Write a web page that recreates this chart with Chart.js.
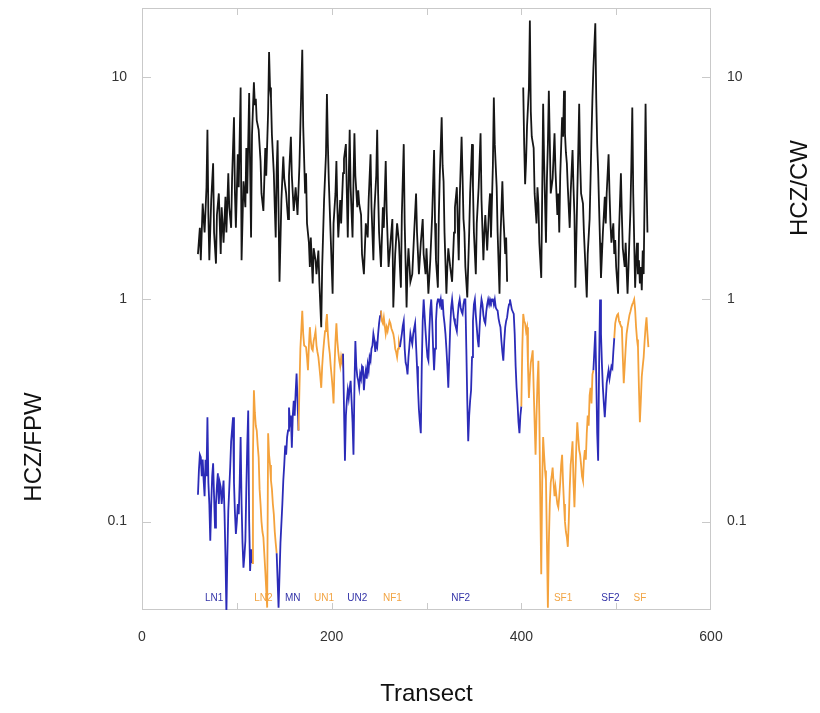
<!DOCTYPE html>
<html><head><meta charset="utf-8">
<script src="https://cdn.jsdelivr.net/npm/chart.js@4/dist/chart.umd.min.js"></script>
<style>html,body{margin:0;padding:0;background:#fff;}#wrap{width:820px;height:713px;position:relative;}</style>
</head><body><div id="wrap"><canvas id="c" width="820" height="713"></canvas></div>
<script>
// HCZ/CW (black, right axis): [transect, ratio]; null = gap
const cwPoints = [[59,1.6],[61,2.1],[62,1.5],[64,2.7],[66,2.0],[68,3.2],[69,5.8],[70,2.4],[71,1.5],[73,2.8],[75,4.1],[76,2.0],[78,1.45],[79,2.4],[81,3.0],[83,1.6],[84,2.6],[86,1.8],[88,2.9],[89,2.0],[91,3.7],[92,2.6],[94,2.1],[95,3.5],[97,6.6],[98,3.0],[99,2.1],[101,4.5],[102,3.2],[104,9.0],[105,1.5],[107,3.4],[109,2.6],[110,4.8],[111,3.0],[113,8.5],[114,4.0],[115,1.9],[116,5.5],[118,9.5],[119,7.5],[120,8.0],[121,6.4],[123,5.8],[125,4.2],[126,3.0],[128,2.5],[130,4.8],[131,3.6],[133,7.0],[134,13],[135,9.0],[136,8.1],[137,5.5],[139,3.7],[140,2.6],[141,1.9],[142,3.8],[143,5.2],[145,1.2],[147,2.8],[149,4.4],[150,3.5],[152,3.0],[154,2.3],[155,3.6],[157,5.4],[158,3.6],[160,2.5],[162,3.2],[164,2.4],[166,4.0],[167,6.0],[169,13.3],[170,6.0],[172,3.0],[173,3.7],[174,2.2],[176,1.8],[177,1.4],[178,1.9],[180,1.18],[181,1.7],[183,1.5],[184,1.3],[186,1.66],[187,1.2],[189,0.75],[190,1.4],[192,2.8],[194,4.5],[195,8.4],[196,5.0],[197,3.4],[199,1.9],[201,1.06],[202,2.2],[204,3.0],[205,4.2],[206,2.6],[207,1.9],[209,2.8],[210,2.2],[212,3.7],[213,4.3],[215,5.0],[216,3.0],[217,1.9],[218,3.5],[219,5.8],[220,3.2],[222,1.9],[223,3.4],[224,5.6],[225,3.6],[227,2.6],[228,3.1],[229,2.7],[231,2.4],[232,1.6],[234,1.3],[236,2.2],[238,1.9],[239,2.8],[241,4.5],[242,2.6],[244,1.5],[245,2.5],[247,3.6],[248,5.8],[249,3.0],[250,2.0],[252,1.4],[254,2.6],[255,2.1],[257,4.2],[258,2.5],[260,1.4],[262,1.8],[264,2.3],[265,0.92],[267,1.6],[269,2.2],[271,1.8],[272,1.4],[273,1.13],[274,2.4],[276,5.0],[277,2.2],[279,0.92],[280,1.4],[281,1.7],[283,1.2],[285,1.3],[287,2.0],[289,3.0],[290,2.0],[292,1.3],[294,1.8],[296,2.3],[297,1.6],[299,1.3],[300,1.7],[302,1.06],[304,1.5],[306,2.4],[308,4.7],[309,2.2],[310,1.5],[312,1.13],[313,2.4],[314,3.6],[316,6.6],[317,4.0],[318,3.4],[319,2.0],[321,1.06],[322,1.4],[323,1.7],[325,1.4],[327,1.2],[329,2.0],[330,2.6],[332,3.2],[333,2.1],[334,1.5],[335,2.8],[337,5.4],[338,3.6],[339,2.3],[340,2.0],[341,1.4],[343,1.02],[345,2.0],[346,3.0],[348,5.0],[349,3.2],[350,2.0],[352,1.3],[353,2.2],[355,3.2],[357,5.6],[358,2.8],[360,1.5],[361,2.0],[362,2.4],[364,1.66],[366,2.6],[367,3.0],[368,1.9],[370,4.0],[371,8.1],[372,5.0],[374,3.2],[375,2.0],[377,1.06],[378,1.9],[380,3.4],[381,2.4],[383,1.6],[384,1.9],[385,1.2],[393,null],[402,9.0],[403,5.0],[404,3.3],[405,4.2],[406,6.0],[408,9.0],[409,18],[410,7.0],[411,5.4],[413,4.8],[414,3.0],[416,2.2],[417,3.2],[418,2.7],[419,1.8],[421,1.25],[422,3.0],[423,7.6],[424,4.2],[426,1.8],[427,3.5],[428,5.0],[429,8.7],[430,5.2],[431,3.0],[433,3.5],[434,4.4],[435,5.6],[436,3.8],[438,2.4],[439,3.0],[440,2.0],[441,3.6],[443,6.6],[444,5.4],[445,8.7],[446,5.6],[447,4.6],[448,4.1],[449,3.2],[451,2.1],[452,3.0],[454,4.7],[455,3.2],[456,2.4],[457,1.13],[459,3.0],[460,4.6],[461,7.6],[462,4.2],[463,3.0],[465,2.7],[466,2.0],[467,1.6],[469,1.02],[470,1.6],[472,2.3],[473,3.5],[474,5.5],[475,8.1],[476,11],[478,17.5],[479,8.0],[480,5.0],[481,3.8],[482,2.6],[483,1.8],[484,1.25],[486,2.0],[487,2.4],[488,2.9],[489,2.2],[490,3.0],[492,4.5],[493,3.0],[494,2.2],[495,1.8],[497,2.2],[498,1.6],[499,1.85],[500,1.4],[502,1.06],[503,2.0],[505,3.7],[506,2.4],[507,1.7],[509,1.4],[510,1.8],[512,1.06],[513,1.4],[514,1.9],[515,2.5],[516,4.0],[517,7.3],[518,3.0],[520,1.13],[521,1.5],[522,1.8],[523,1.3],[524,1.5],[525,1.18],[526,1.4],[527,1.1],[528,1.66],[529,1.3],[530,3.0],[531,7.6],[532,3.5],[533,2.0]];

// HCZ/FPW (left axis, coloured by reach): [transect, ratio]
const fpwPoints = [[59,0.132],[60,0.17],[61,0.2],[62,0.195],[63,0.16],[64,0.19],[65,0.153],[66,0.13],[67,0.19],[68,0.16],[69,0.295],[70,0.15],[71,0.12],[72,0.082],[73,0.12],[74,0.16],[75,0.183],[76,0.13],[77,0.094],[78,0.12],[79,0.145],[80,0.165],[81,0.12],[82,0.15],[83,0.143],[84,0.12],[85,0.135],[86,0.153],[87,0.11],[88,0.07],[89,0.039],[90,0.07],[91,0.112],[92,0.14],[93,0.175],[94,0.23],[95,0.26],[96,0.295],[97,0.15],[98,0.11],[99,0.088],[100,0.1],[101,0.12],[102,0.108],[103,0.15],[104,0.24],[105,0.12],[106,0.08],[107,0.062],[108,0.07],[109,0.082],[110,0.14],[111,0.22],[112,0.316],[113,0.1],[114,0.06],[115,0.075],[116,0.065],
[117,0.2],[118,0.39],[119,0.31],[120,0.27],[121,0.257],[122,0.22],[123,0.195],[124,0.14],[125,0.12],[126,0.1],[127,0.09],[128,0.085],[130,0.06],[132,0.041],[133,0.25],[134,0.2],[135,0.18],[136,0.153],[137,0.14],[138,0.12],[139,0.108],[140,0.09],[141,0.08],[142,0.072],
[144,0.041],[146,0.08],[148,0.12],[149,0.153],[150,0.18],[151,0.22],[152,0.2],[153,0.24],[154,0.257],[155,0.326],[156,0.28],[157,0.3],[158,0.215],[159,0.3],[160,0.35],[161,0.3],[162,0.38],[163,0.464],[164,0.35],[165,0.257],
[167,0.6],[169,0.89],[170,0.7],[171,0.62],[173,0.61],[174,0.55],[175,0.48],[176,0.62],[177,0.75],[178,0.65],[179,0.6],[180,0.59],[181,0.65],[182,0.68],[183,0.72],[184,0.62],[185,0.58],[186,0.55],[187,0.5],[188,0.45],[189,0.40],[190,0.5],[191,0.58],[192,0.65],[193,0.72],[194,0.78],[195,0.86],[196,0.7],[197,0.62],[198,0.57],[199,0.5],[200,0.45],[201,0.4],[202,0.34],[203,0.5],[204,0.65],[205,0.78],[206,0.65],[207,0.58],[208,0.53],[209,0.5],[210,0.55],[211,0.52],[212,0.57],
[214,0.188],[215,0.3],[216,0.35],[217,0.39],[218,0.36],[219,0.4],[220,0.43],[221,0.35],[222,0.28],[223,0.2],[224,0.4],[225,0.65],[226,0.5],[227,0.45],[228,0.43],[229,0.4],[230,0.46],[231,0.44],[232,0.5],[233,0.49],[234,0.39],[235,0.45],[236,0.48],[237,0.44],[238,0.51],[239,0.48],[240,0.55],[241,0.53],[242,0.6],[243,0.62],[244,0.70],[245,0.66],[246,0.58],[247,0.63],[248,0.61],[249,0.7],[250,0.78],[251,0.84],[252,0.89],
[253,0.8],[254,0.78],[255,0.83],[256,0.76],[257,0.7],[258,0.75],[259,0.72],[260,0.76],[261,0.8],[262,0.78],[263,0.74],[264,0.72],[265,0.70],[266,0.66],[267,0.6],[268,0.58],[269,0.55],[270,0.6],[271,0.64],[272,0.61],
[274,0.7],[275,0.76],[276,0.80],[277,0.6],[278,0.52],[279,0.5],[280,0.46],[281,0.55],[282,0.62],[283,0.70],[284,0.66],[285,0.63],[286,0.7],[287,0.74],[288,0.78],[289,0.62],[290,0.5],[291,0.4],[292,0.32],[293,0.28],[294,0.25],[295,0.5],[296,0.8],[297,1.0],[298,0.85],[299,0.72],[300,0.62],[301,0.55],[302,0.53],[303,0.72],[304,0.9],[305,1.0],[306,0.8],[307,0.6],[308,0.48],[309,0.6],[310,0.8],[311,0.95],[312,1.0],[313,1.0],[314,0.95],[315,1.0],[316,0.9],[317,1.0],[318,0.85],[319,0.78],[320,0.70],[321,0.6],[322,0.5],[323,0.40],[324,0.55],[325,0.75],[326,0.92],[327,1.0],[328,0.9],[329,0.82],[330,0.78],[331,0.75],[332,0.72],[333,0.85],[334,0.95],[335,1.0],[336,0.92],[337,0.88],[338,0.86],[339,0.95],[340,1.0],[341,1.0],[342,0.6],[343,0.35],[344,0.23],[345,0.3],[346,0.35],[347,0.39],[348,0.55],[349,0.8],[350,0.95],[351,1.0],[352,0.85],[353,0.75],[354,0.66],[355,0.61],[356,0.75],[357,0.9],[358,1.0],[359,0.95],[360,0.85],[361,0.8],[362,0.78],[363,0.88],[364,0.95],[365,1.0],[366,0.95],[367,1.0],[368,0.97],[369,1.0],[370,1.0],[371,0.95],[372,1.0],[373,0.92],[374,0.9],[375,0.89],[376,0.82],[377,0.78],[378,0.75],[379,0.65],[380,0.58],[381,0.53],[382,0.65],[383,0.75],[384,0.8],[385,0.83],[386,0.9],[387,0.95],[388,1.0],[389,0.95],[390,0.9],[391,0.88],[392,0.86],[393,0.7],[394,0.5],[395,0.4],[396,0.34],[397,0.28],[398,0.25],[399,0.3],[400,0.33],
[401,0.6],[402,0.86],[403,0.8],[404,0.78],[405,0.72],[406,0.75],[407,0.5],[408,0.36],[409,0.45],[410,0.52],[411,0.55],[412,0.59],[413,0.4],[414,0.28],[415,0.2],[416,0.3],[417,0.42],[418,0.53],[419,0.3],[420,0.12],[421,0.058],[422,0.15],[423,0.24],[424,0.2],[425,0.17],[426,0.153],[427,0.08],[428,0.041],[429,0.08],[430,0.12],[431,0.15],[432,0.16],[433,0.175],[434,0.15],[435,0.13],[436,0.143],[437,0.13],[438,0.12],[439,0.116],[440,0.13],[441,0.15],[442,0.18],[443,0.2],[444,0.15],[445,0.12],[446,0.1],[447,0.09],[448,0.085],[449,0.077],[450,0.1],[451,0.14],[452,0.18],[453,0.2],[454,0.23],[455,0.15],[456,0.116],[457,0.16],[458,0.22],[459,0.28],[460,0.24],[461,0.21],[462,0.2],[463,0.18],[464,0.16],[465,0.153],[466,0.19],[467,0.21],[468,0.19],[469,0.25],[470,0.3],[471,0.27],[472,0.37],[473,0.40],[474,0.34],[475,0.46],[476,0.48],
[478,0.72],[479,0.45],[480,0.25],[481,0.188],[482,0.5],[483,1.0],[484,0.7],[485,0.51],[486,0.4],[487,0.34],[488,0.295],[489,0.35],[490,0.42],[491,0.45],[492,0.48],[493,0.44],[494,0.47],[495,0.5],[496,0.49],[497,0.58],[498,0.67],
[499,0.78],[500,0.82],[501,0.85],[502,0.86],[503,0.8],[504,0.78],[505,0.76],[506,0.75],[507,0.55],[508,0.42],[509,0.5],[510,0.6],[511,0.7],[512,0.75],[513,0.80],[514,0.85],[515,0.88],[516,0.92],[517,0.95],[518,0.97],[519,1.0],[520,0.9],[521,0.75],[522,0.66],[523,0.61],[524,0.4],[525,0.28],[526,0.35],[527,0.45],[528,0.5],[529,0.55],[530,0.65],[531,0.75],[532,0.83],[533,0.7],[534,0.61]];

const regionNames = ['LN1','LN2','MN','UN1','UN2','NF1','NF2','SF1','SF2','SF'];
const regionStart = [0,117,143,167,213,253,274,401,477,499];
const regionLabelX = [76,128,159,192,227,264,336,444,494,525];
const regionKind = ['b','o','b','o','b','o','b','o','b','o'];

const xTicks = [0,200,400,600];
const xMinorTicks = [100,200,300,400,500];
const yTicks = [0.1,1,10];

const BLUE = '#2b2bb8', ORANGE = '#f4a23c';
const FONT = '"Liberation Sans", Arial, Helvetica, sans-serif';

function regionIndex(x){ let i=0; for(let k=0;k<regionStart.length;k++){ if(x>=regionStart[k]) i=k; } return i; }
function colorAt(x){ return regionKind[regionIndex(x)]==='b' ? BLUE : ORANGE; }

const cwData = cwPoints.map(p=>({x:p[0],y:p[1]}));
const fpwData = fpwPoints.map(p=>({x:p[0],y:p[1]}));

const decor = {
  id:'decor',
  beforeDatasetsDraw(chart){
    const {ctx, chartArea:a} = chart;
    ctx.save();
    ctx.strokeStyle = '#c9c9c9'; ctx.lineWidth = 1;
    ctx.strokeRect(a.left+0.5, a.top+0.5, a.right-a.left-1, a.bottom-a.top-1);
    const xs = chart.scales.x, y = chart.scales.y, y2 = chart.scales.y2;
    ctx.beginPath();
    xMinorTicks.forEach(v=>{ const px=Math.round(xs.getPixelForValue(v))+0.5;
      ctx.moveTo(px,a.top); ctx.lineTo(px,a.top+7);
      ctx.moveTo(px,a.bottom); ctx.lineTo(px,a.bottom-7); });
    yTicks.forEach(v=>{ const py=Math.round(y.getPixelForValue(v))+0.5;
      ctx.moveTo(a.left,py); ctx.lineTo(a.left+9,py);
      const py2=Math.round(y2.getPixelForValue(v))+0.5;
      ctx.moveTo(a.right,py2); ctx.lineTo(a.right-9,py2); });
    ctx.stroke();
    ctx.restore();
  },
  afterDatasetsDraw(chart){
    const {ctx, chartArea:a} = chart;
    const xs = chart.scales.x;
    ctx.save();
    ctx.font = '10px ' + FONT;
    ctx.textAlign = 'center'; ctx.textBaseline = 'middle';
    regionNames.forEach((n,i)=>{
      ctx.fillStyle = regionKind[i]==='b' ? '#3434a8' : '#f2a443';
      ctx.fillText(n, xs.getPixelForValue(regionLabelX[i]), a.bottom - 12);
    });
    ctx.fillStyle = '#111';
    ctx.font = '24px ' + FONT;
    ctx.save(); ctx.translate(34, 447); ctx.rotate(-Math.PI/2); ctx.fillText('HCZ/FPW',0,0); ctx.restore();
    ctx.save(); ctx.translate(800, 188); ctx.rotate(-Math.PI/2); ctx.fillText('HCZ/CW',0,0); ctx.restore();
    ctx.restore();
  }
};

const yTickCfg = (pad)=>({
  padding: pad, color:'#333', font:{size:14, family:FONT},
  callback:(v)=> yTicks.includes(v) ? String(v) : ''
});

new Chart(document.getElementById('c'), {
  type:'line',
  data:{ datasets:[
    { label:'HCZ/CW', data:cwData, yAxisID:'y2', borderColor:'#161616', borderWidth:1.8,
      pointRadius:0, tension:0, spanGaps:false, order:1 },
    { label:'HCZ/FPW', data:fpwData, yAxisID:'y', borderColor:BLUE, borderWidth:1.8,
      pointRadius:0, tension:0, order:2,
      segment:{ borderColor: c => colorAt(c.p1.parsed.x) } }
  ]},
  options:{
    responsive:false, animation:false, devicePixelRatio:1,
    layout:{ padding:{top:8, left:0, right:0, bottom:0} },
    plugins:{ legend:{display:false}, tooltip:{enabled:false} },
    scales:{
      x:{ type:'linear', position:'bottom', min:0, max:600,
        afterBuildTicks: s => { s.ticks = xTicks.map(v=>({value:v})); },
        afterFit: s => { s.height = 103; s.paddingLeft = 0; s.paddingRight = 0; },
        grid:{display:false, drawTicks:false}, border:{display:false},
        ticks:{ padding:19, color:'#333', font:{size:14, family:FONT}, maxRotation:0, autoSkip:false },
        title:{ display:true, text:'Transect', color:'#111', font:{size:24, family:FONT}, padding:{top:0,bottom:4} }
      },
      y:{ type:'logarithmic', position:'left', min:0.04, max:20.5,
        afterBuildTicks: s => { s.ticks = yTicks.map(v=>({value:v})); },
        afterFit: s => { s.width = 142; s.paddingTop = 0; s.paddingBottom = 0; },
        grid:{display:false, drawTicks:false}, border:{display:false},
        ticks: yTickCfg(15)
      },
      y2:{ type:'logarithmic', position:'right', min:0.04, max:20.5,
        afterBuildTicks: s => { s.ticks = yTicks.map(v=>({value:v})); },
        afterFit: s => { s.width = 109; s.paddingTop = 0; s.paddingBottom = 0; },
        grid:{display:false, drawTicks:false}, border:{display:false},
        ticks: yTickCfg(16)
      }
    }
  },
  plugins:[decor]
});
</script></body></html>
